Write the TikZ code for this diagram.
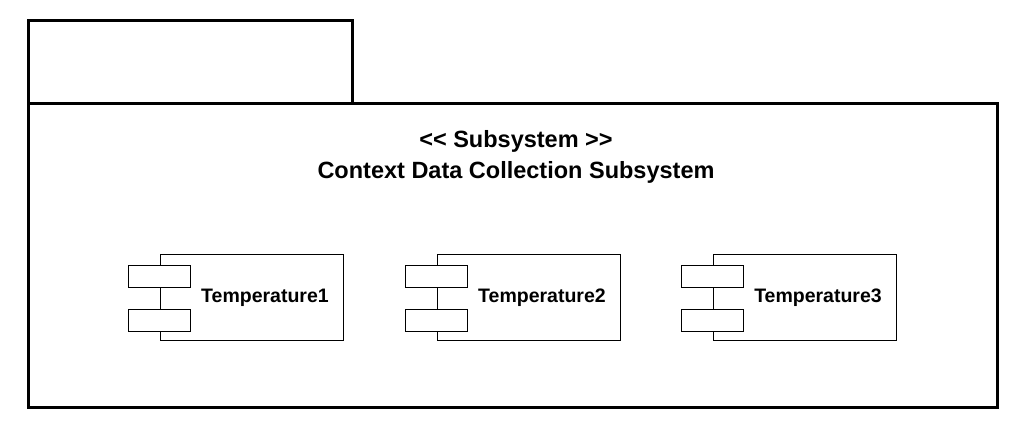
\documentclass[tikz,border=0pt]{standalone}
\usepackage{fontspec}
\setmainfont{Liberation Sans}
\begin{document}
\begin{tikzpicture}[x=1pt,y=-1pt,
  thick box/.style={draw=black,line width=3pt},
  comp/.style={draw=black,line width=1pt,fill=white},
  lbl/.style={font=\bfseries\fontsize{23.5}{31}\selectfont}]
\useasboundingbox (0,0) rectangle (1024,429);
\draw[thick box] (28,103) -- (28,20) -- (352,20) -- (352,103);
\draw[thick box] (28,103) rectangle (997,407);
\node[lbl,align=center] (title) at (516,157) {{<}{<} Subsystem {>}{>}\\Context Data Collection Subsystem};
\foreach \i/\x in {1/0,2/277,3/553}{
  \draw[comp] (160+\x,254) rectangle (343+\x,340);
  \draw[comp] (128+\x,265) rectangle (190+\x,287);
  \draw[comp] (128+\x,309) rectangle (190+\x,331);
  \node[font=\bfseries\fontsize{19.5}{22}\selectfont] (t\i) at (265+\x,298) {Temperature\i};
}
\end{tikzpicture}
\end{document}
